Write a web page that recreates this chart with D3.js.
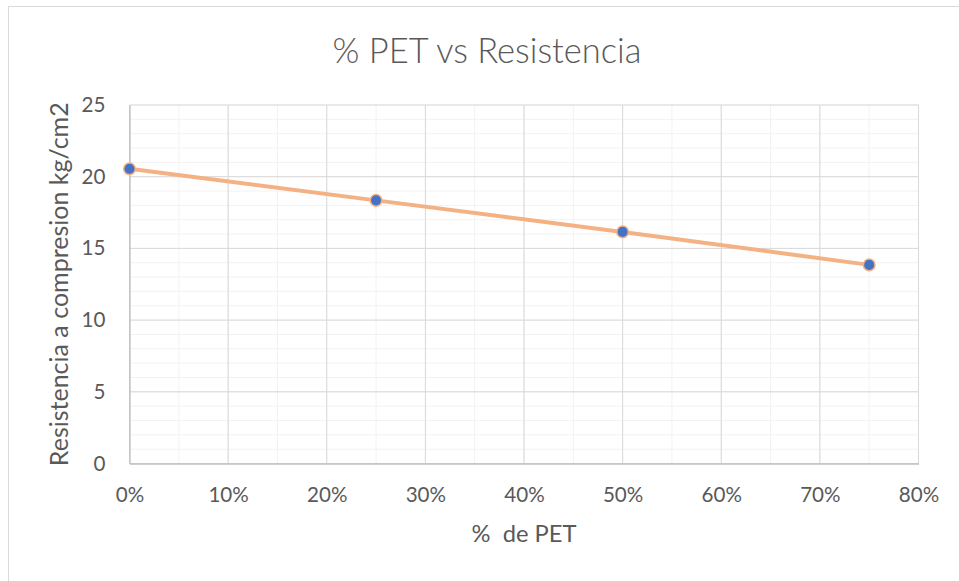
<!DOCTYPE html>
<html>
<head>
<meta charset="utf-8">
<script src="https://cdn.jsdelivr.net/npm/d3@7"></script>
<style>
  html, body { margin: 0; padding: 0; background: #fff; }
  svg { display: block; }
  text { font-family: Lato, "Open Sans", sans-serif; fill: #595959; }
</style>
</head>
<body>
<svg id="chart" width="959" height="581"></svg>
<script>
// PET content (fraction) and compressive strength (kg/cm2)
const petShare = [0, 0.25, 0.50, 0.75];
const strength = [20.55, 18.35, 16.15, 13.85];
const xTicks = [0, 0.1, 0.2, 0.3, 0.4, 0.5, 0.6, 0.7, 0.8];
const yTicks = [0, 5, 10, 15, 20, 25];
const titleText = "% PET vs Resistencia";
const xTitle = "%  de PET";
const yTitle = "Resistencia a compresion kg/cm2";

const svg = d3.select("#chart");
const W = 959, H = 581;
const plot = { left: 129.5, right: 918.5, top: 105, bottom: 463.5 };

// outer chart frame
svg.append("rect")
  .attr("x", 8.5).attr("y", 6.5)
  .attr("width", W + 10).attr("height", H + 10)
  .attr("fill", "#fff").attr("stroke", "#d9d9d9").attr("stroke-width", 1);

const x = d3.scaleLinear().domain([0, 0.8]).range([plot.left, plot.right]);
const y = d3.scaleLinear().domain([0, 25]).range([plot.bottom, plot.top]);

const grid = svg.append("g");
// minor gridlines
const xMinor = d3.range(0, 0.8001, 0.05);
const yMinor = d3.range(0, 25.001, 1);
grid.selectAll(".ymin").data(yMinor).enter().append("line")
  .attr("x1", plot.left).attr("x2", plot.right)
  .attr("y1", d => y(d)).attr("y2", d => y(d))
  .attr("stroke", "#f2f2f2").attr("stroke-width", 1);
grid.selectAll(".xmin").data(xMinor).enter().append("line")
  .attr("y1", plot.top).attr("y2", plot.bottom)
  .attr("x1", d => x(d)).attr("x2", d => x(d))
  .attr("stroke", "#f2f2f2").attr("stroke-width", 1);
// major gridlines
grid.selectAll(".ymaj").data(yTicks).enter().append("line")
  .attr("x1", plot.left).attr("x2", plot.right)
  .attr("y1", d => y(d)).attr("y2", d => y(d))
  .attr("stroke", "#d9d9d9").attr("stroke-width", 1);
grid.selectAll(".xmaj").data(xTicks).enter().append("line")
  .attr("y1", plot.top).attr("y2", plot.bottom)
  .attr("x1", d => x(d)).attr("x2", d => x(d))
  .attr("stroke", "#d9d9d9").attr("stroke-width", 1);

// axes
const xAxis = svg.append("g").attr("transform", `translate(0,${plot.bottom})`)
  .call(d3.axisBottom(x).tickValues(xTicks).tickFormat(d3.format(".0%")).tickSize(0).tickPadding(24));
const yAxis = svg.append("g").attr("transform", `translate(${plot.left},0)`)
  .call(d3.axisLeft(y).tickValues(yTicks).tickSize(0).tickPadding(24));
[xAxis, yAxis].forEach(a => {
  a.select(".domain").attr("stroke", "#bfbfbf").attr("stroke-width", 1.3);
  a.selectAll("text").style("font-family", "Lato, sans-serif").style("font-size", "20.6px").attr("fill", "#595959");
});

// series line and markers
const pts = petShare.map((p, i) => [p, strength[i]]);
svg.append("path").datum(pts)
  .attr("fill", "none").attr("stroke", "#f4b183").attr("stroke-width", 4)
  .attr("d", d3.line().x(d => x(d[0])).y(d => y(d[1])));
svg.selectAll(".pt").data(pts).enter().append("circle")
  .attr("cx", d => x(d[0])).attr("cy", d => y(d[1])).attr("r", 5.8)
  .attr("fill", "#4472c4").attr("stroke", "#f4b183").attr("stroke-width", 1.5);

// titles
svg.append("text").attr("x", 487).attr("y", 63).attr("text-anchor", "middle")
  .style("font-size", "34.5px").style("font-weight", 300).text(titleText);
svg.append("text").attr("x", (plot.left + plot.right) / 2).attr("y", 542).attr("text-anchor", "middle")
  .style("font-size", "23.7px").attr("xml:space", "preserve").style("white-space", "pre").text(xTitle);
svg.append("text").attr("transform", `translate(67.5,${(plot.top + plot.bottom) / 2}) rotate(-90)`)
  .attr("text-anchor", "middle").style("font-size", "25px").text(yTitle);
</script>
</body>
</html>
